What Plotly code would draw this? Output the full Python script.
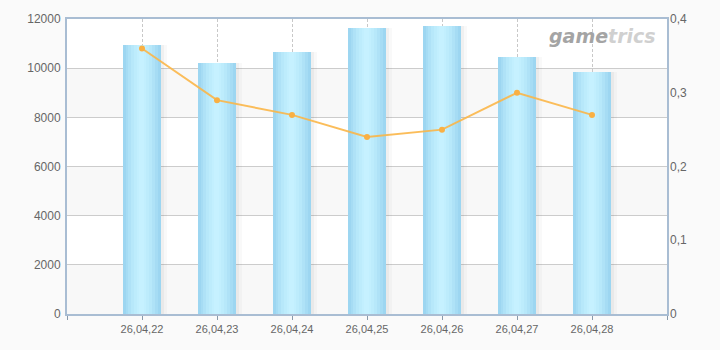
import plotly.graph_objects as go

dates = ["26,04,22", "26,04,23", "26,04,24", "26,04,25", "26,04,26", "26,04,27", "26,04,28"]
bar_values = [10950, 10200, 10650, 11650, 11700, 10450, 9830]
line_values = [0.36, 0.29, 0.27, 0.24, 0.25, 0.30, 0.27]
left_ticks = [0, 2000, 4000, 6000, 8000, 10000, 12000]
right_ticks = [0, 0.1, 0.2, 0.3, 0.4]
right_labels = ["0", "0,1", "0,2", "0,3", "0,4"]

x = list(range(len(dates)))
BW = 0.507

fig = go.Figure()

# shadow layers
for off, col in [(0.075, "rgba(0,0,0,0.025)"), (0.045, "rgba(0,0,0,0.035)")]:
    fig.add_trace(go.Bar(x=x, y=bar_values, width=BW, offset=-BW / 2 + off,
                         marker=dict(color=col, line=dict(width=0)),
                         hoverinfo="skip", showlegend=False))

# gradient layers (outer -> inner)
layers = [(1.0, "#9dd6f1"), (0.85, "#a6dcf4"), (0.7, "#afe2f7"), (0.55, "#b7e8fa"),
          (0.4, "#bdecfc"), (0.25, "#c2effe"), (0.12, "#c6f1ff")]
for frac, col in layers:
    w = BW * frac
    fig.add_trace(go.Bar(x=x, y=bar_values, width=w, offset=-w / 2 - 0.01 * (1 - frac),
                         marker=dict(color=col, line=dict(width=0)),
                         hoverinfo="skip", showlegend=False))

fig.add_trace(go.Scatter(x=x, y=line_values, yaxis="y2", mode="lines+markers",
                         line=dict(color="rgba(251,182,72,0.9)", width=2),
                         marker=dict(color="#f9b044", size=6),
                         showlegend=False))

# alternating background bands
shapes = []
for i in range(0, len(left_ticks) - 1, 2):
    shapes.append(dict(type="rect", xref="paper", yref="y", x0=0, x1=1,
                       y0=left_ticks[i], y1=left_ticks[i + 1],
                       fillcolor="#f8f8f8", line=dict(width=0), layer="below"))

axis_col = "#a9bdd3"
fig.update_layout(
    width=720, height=350,
    margin=dict(l=67, r=53, t=17, b=36),
    paper_bgcolor="#fafafa", plot_bgcolor="#ffffff",
    barmode="overlay", bargap=0,
    shapes=shapes,
    font=dict(family="Liberation Sans, Arial, sans-serif", size=11, color="#666666"),
    xaxis=dict(range=[-1, 7], tickvals=[-1] + x + [7], ticktext=[""] + dates + [""],
               showgrid=True, gridcolor="#c8c8c8", griddash="3px,2px", gridwidth=1,
               showline=True, linecolor=axis_col, linewidth=2, mirror=True,
               ticks="outside", ticklen=4, tickcolor="#8899aa", zeroline=False,
               tickfont=dict(size=11, color="#666666")),
    yaxis=dict(range=[0, 12000], tickvals=left_ticks, ticktext=[str(v) for v in left_ticks],
               showgrid=True, gridcolor="#cccccc", gridwidth=1,
               showline=True, linecolor=axis_col, linewidth=2, mirror=True,
               ticks="", ticklabelstandoff=2, zeroline=False,
               tickfont=dict(size=12, color="#666666")),
    yaxis2=dict(range=[0, 0.4], overlaying="y", side="right",
                tickvals=right_ticks, ticktext=right_labels,
                showgrid=False, showline=False, ticks="", zeroline=False,
                ticklabelstandoff=2, tickfont=dict(size=12, color="#666666")),
    annotations=[dict(xref="paper", yref="paper", x=0.985, y=0.985, xanchor="right", yanchor="top",
                      showarrow=False,
                      text="<b><i><span style='color:#a4a4a4'>game</span>"
                           "<span style='color:#d0d0d0'>trics</span></i></b>",
                      font=dict(family="DejaVu Sans, sans-serif", size=19))],
)

fig.write_html("out.html")
